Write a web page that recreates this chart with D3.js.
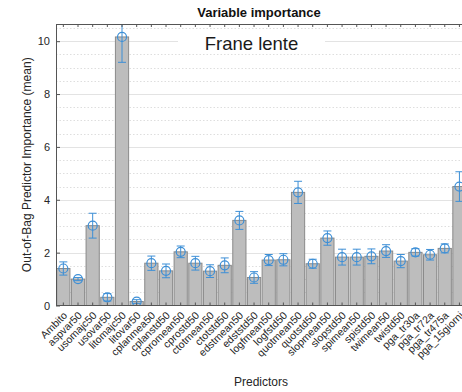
<!DOCTYPE html>
<html>
<head>
<meta charset="utf-8">
<script src="https://cdn.jsdelivr.net/npm/d3@7"></script>
<style>
  body { margin: 0; background: #fff; }
  svg { display: block; font-family: "Liberation Sans", Arial, sans-serif; }
</style>
</head>
<body>
<svg width="462" height="392"></svg>
<script>
// predictors, in the order they appear
var categories = ["Ambito", "aspvar50", "usomajc50", "usovar50", "litomajc50", "litovar50",
  "cplanmea50", "cplanstd50", "cpromean50", "cprostd50", "ctotmean50", "ctotstd50",
  "edstmean50", "edststd50", "logfmean50", "logfstd50", "quotmean50", "quotstd50",
  "slopmean50", "slopstd50", "spimean50", "spistd50", "twimean50", "twistd50",
  "pga_tr30a", "pga_tr72a", "pga_tr475a", "pga_15giorni"];

// mean out-of-bag importance
var importance = [1.40, 1.00, 3.02, 0.31, 10.16, 0.15,
  1.60, 1.31, 2.03, 1.60, 1.30, 1.52,
  3.22, 1.06, 1.72, 1.73, 4.28, 1.58,
  2.55, 1.83, 1.83, 1.86, 2.06, 1.68,
  2.01, 1.92, 2.16, 4.50];

// error bar half length
var errors = [0.25, 0.06, 0.47, 0.14, 0.96, 0.07,
  0.27, 0.26, 0.22, 0.26, 0.24, 0.28,
  0.34, 0.22, 0.21, 0.23, 0.42, 0.17,
  0.27, 0.30, 0.30, 0.28, 0.24, 0.25,
  0.14, 0.20, 0.17, 0.56];

var yTicks = [0, 2, 4, 6, 8, 10];
var yMinor = d3.range(0.5, 10.6, 0.5).filter(function(d) { return d % 2 != 0; });

var svg = d3.select("svg");

// "top" is taken by window.top, so plot edges get their own names
var plotL = 56, plotT = 24, plotB = 305.5;
var step = 14.67;
var plotR = plotL + step * categories.length;

var x = d3.scaleBand()
    .domain(categories)
    .range([plotL, plotR])
    .paddingInner(0.1)
    .paddingOuter(0.05);

var y = d3.scaleLinear()
    .domain([0, 10.65])
    .range([plotB, plotT]);

svg.append("defs").append("clipPath")
    .attr("id", "plot")
  .append("rect")
    .attr("x", plotL)
    .attr("y", plotT)
    .attr("width", plotR - plotL)
    .attr("height", plotB - plotT);

// grid
svg.append("g").selectAll("line")
    .data(yMinor)
    .enter().append("line")
    .attr("x1", plotL).attr("x2", plotR)
    .attr("y1", function(d) { return Math.round(y(d)) + 0.5; })
    .attr("y2", function(d) { return Math.round(y(d)) + 0.5; })
    .style("stroke", "#dedede")
    .style("stroke-dasharray", "1.5,2");

svg.append("g").selectAll("line")
    .data(yTicks.slice(1))
    .enter().append("line")
    .attr("x1", plotL).attr("x2", plotR)
    .attr("y1", function(d) { return Math.round(y(d)) + 0.5; })
    .attr("y2", function(d) { return Math.round(y(d)) + 0.5; })
    .style("stroke", "#e3e3e3");

// label box over the grid
svg.append("rect")
    .attr("x", 178).attr("y", 29)
    .attr("width", 147).attr("height", 25)
    .style("fill", "#fff");
svg.append("text")
    .attr("x", 251.5).attr("y", 50)
    .attr("text-anchor", "middle")
    .style("font-size", "18.5px")
    .style("fill", "#1a1a1a")
    .text("Frane lente");

var plot = svg.append("g").attr("clip-path", "url(#plot)");

// bars
plot.selectAll("rect.bar")
    .data(categories)
    .enter().append("rect")
    .attr("class", "bar")
    .attr("x", function(d) { return x(d); })
    .attr("width", x.bandwidth())
    .attr("y", function(d, i) { return y(importance[i]); })
    .attr("height", function(d, i) { return plotB - y(importance[i]); })
    .style("fill", "#bdbdbd")
    .style("stroke", "#8a8a8a")
    .style("stroke-width", 1);

// error bars
var blue = "#3d8fd6";
var eb = plot.selectAll("g.err")
    .data(categories)
    .enter().append("g")
    .attr("class", "err")
    .attr("transform", function(d) { return "translate(" + (x(d) + x.bandwidth() / 2) + ",0)"; });

eb.append("line")
    .attr("y1", function(d, i) { return y(importance[i] - errors[i]); })
    .attr("y2", function(d, i) { return y(importance[i] + errors[i]); })
    .style("stroke", blue);
eb.append("line")
    .attr("x1", -4).attr("x2", 4)
    .attr("y1", function(d, i) { return y(importance[i] - errors[i]); })
    .attr("y2", function(d, i) { return y(importance[i] - errors[i]); })
    .style("stroke", blue);
eb.append("line")
    .attr("x1", -4).attr("x2", 4)
    .attr("y1", function(d, i) { return y(importance[i] + errors[i]); })
    .attr("y2", function(d, i) { return y(importance[i] + errors[i]); })
    .style("stroke", blue);
eb.append("circle")
    .attr("cy", function(d, i) { return y(importance[i]); })
    .attr("r", 4.5)
    .style("fill", "none")
    .style("stroke", blue)
    .style("stroke-width", 1.2);

// axes
var axisColor = "#555";

var yAxis = svg.append("g")
    .attr("transform", "translate(" + plotL + ",0)")
    .call(d3.axisRight(y).tickValues(yTicks).tickSize(4).tickFormat(d3.format("d")));
yAxis.select(".domain").remove();
yAxis.selectAll(".tick line").style("stroke", axisColor);
yAxis.selectAll(".tick text")
    .attr("x", -6)
    .attr("text-anchor", "end")
    .style("font-size", "11px")
    .style("font-family", "Liberation Sans, Arial, sans-serif")
    .style("fill", "#262626");

var xAxis = svg.append("g")
    .attr("transform", "translate(0," + plotB + ")")
    .call(d3.axisTop(x).tickSize(3).tickSizeOuter(0));
xAxis.select(".domain").remove();
xAxis.selectAll(".tick line").style("stroke", axisColor);
xAxis.selectAll(".tick text")
    .attr("text-anchor", "end")
    .attr("transform", "translate(2,8) rotate(-45)")
    .attr("x", 0)
    .attr("y", 0)
    .attr("dy", "0.35em")
    .style("font-size", "10.5px")
    .style("font-family", "Liberation Sans, Arial, sans-serif")
    .style("fill", "#262626");

var xTop = svg.append("g")
    .attr("transform", "translate(0," + plotT + ")")
    .call(d3.axisBottom(x).tickSize(3).tickFormat(""));
xTop.select(".domain").remove();
xTop.selectAll(".tick line").style("stroke", axisColor);

// box
svg.append("line")
    .attr("x1", plotL + 0.5).attr("x2", plotL + 0.5)
    .attr("y1", plotT).attr("y2", plotB)
    .style("stroke", axisColor);
svg.append("line")
    .attr("x1", plotL).attr("x2", plotR)
    .attr("y1", plotB).attr("y2", plotB)
    .style("stroke", axisColor);
svg.append("line")
    .attr("x1", plotL).attr("x2", plotR)
    .attr("y1", plotT + 0.5).attr("y2", plotT + 0.5)
    .style("stroke", axisColor);

// titles
svg.append("text")
    .attr("x", 259).attr("y", 17)
    .attr("text-anchor", "middle")
    .style("font-size", "13px")
    .style("font-weight", "bold")
    .style("fill", "#111")
    .text("Variable importance");

svg.append("text")
    .attr("x", 261).attr("y", 386)
    .attr("text-anchor", "middle")
    .style("font-size", "12px")
    .style("fill", "#262626")
    .text("Predictors");

svg.append("text")
    .attr("transform", "translate(31," + ((plotT + plotB) / 2) + ") rotate(-90)")
    .attr("text-anchor", "middle")
    .style("font-size", "12px")
    .style("fill", "#262626")
    .text("Out-of-Bag Predictor Importance (mean)");
</script>
</body>
</html>
